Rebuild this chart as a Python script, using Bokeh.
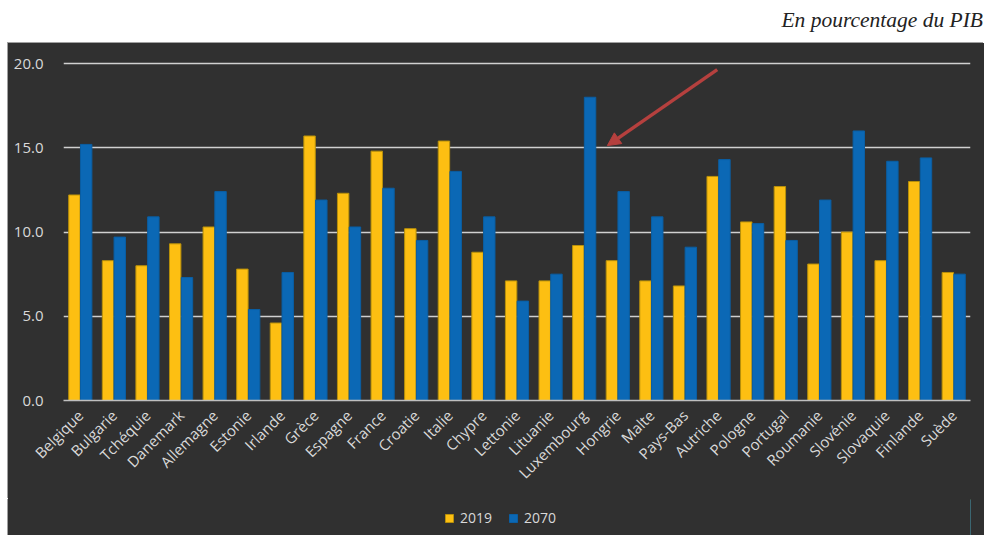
from bokeh.plotting import figure
from bokeh.models import (ColumnDataSource, FixedTicker, NumeralTickFormatter, Range1d,
                          Legend, LegendItem, Arrow, NormalHead, Div, Spacer)
from bokeh.layouts import column, row
from bokeh.transform import dodge
from bokeh.embed import file_html
from bokeh.resources import INLINE
import math

countries = ["Belgique", "Bulgarie", "Tchéquie", "Danemark", "Allemagne", "Estonie", "Irlande",
             "Grèce", "Espagne", "France", "Croatie", "Italie", "Chypre", "Lettonie", "Lituanie",
             "Luxembourg", "Hongrie", "Malte", "Pays-Bas", "Autriche", "Pologne", "Portugal",
             "Roumanie", "Slovénie", "Slovaquie", "Finlande", "Suède"]
v2019 = [12.2, 8.3, 8.0, 9.3, 10.3, 7.8, 4.6, 15.7, 12.3, 14.8, 10.2, 15.4, 8.8, 7.1, 7.1,
         9.2, 8.3, 7.1, 6.8, 13.3, 10.6, 12.7, 8.1, 10.0, 8.3, 13.0, 7.6]
v2070 = [15.2, 9.7, 10.9, 7.3, 12.4, 5.4, 7.6, 11.9, 10.3, 12.6, 9.5, 13.6, 10.9, 5.9, 7.5,
         18.0, 12.4, 10.9, 9.1, 14.3, 10.5, 9.5, 11.9, 16.0, 14.2, 14.4, 7.5]
y_ticks = [0, 5, 10, 15, 20]
series_names = ["2019", "2070"]

BG = "#303030"
TXT = "#d9d9d9"
YELLOW = "#FDBF12"
BLUE = "#0B68B5"
YEL_EDGE = "#B8900A"
BLUE_EDGE = "#0A5EA3"
FONT = "Open Sans"
EDGE = "#a0a0a0"

src = ColumnDataSource(dict(country=countries, y2019=v2019, y2070=v2070))

p = figure(x_range=countries, y_range=Range1d(0, 20.3), width=976, height=456,
           output_backend="svg", toolbar_location=None,
           min_border_left=55, min_border_right=14, min_border_top=15, min_border_bottom=99)
p.x_range.range_padding = 0
p.background_fill_color = BG
p.border_fill_color = BG
p.outline_line_color = None

p.vbar(x=dodge("country", -0.175, range=p.x_range), top="y2019", width=0.34,
       source=src, fill_color=YELLOW, line_color=YEL_EDGE, line_width=1)
p.vbar(x=dodge("country", 0.175, range=p.x_range), top="y2070", width=0.34,
       source=src, fill_color=BLUE, line_color=BLUE_EDGE, line_width=1)

p.xgrid.grid_line_color = None
p.ygrid.grid_line_color = "#d0d0d0"
p.ygrid.grid_line_width = 1.5
p.ygrid.level = "underlay"

p.yaxis.ticker = FixedTicker(ticks=y_ticks)
p.yaxis.formatter = NumeralTickFormatter(format="0.0")
p.yaxis.axis_line_color = None
p.yaxis.major_tick_line_color = None
p.yaxis.minor_tick_line_color = None
p.yaxis.major_label_standoff = 14
p.yaxis.major_label_text_font = FONT
p.yaxis.major_label_text_font_size = "15px"
p.yaxis.major_label_text_color = TXT

p.xaxis.axis_line_color = "#bfbfbf"
p.xaxis.axis_line_width = 1.5
p.xaxis.major_tick_line_color = None
p.xaxis.minor_tick_line_color = None
p.xaxis.major_label_orientation = math.pi / 4
p.xaxis.major_label_standoff = 6
p.xaxis.major_label_text_font = FONT
p.xaxis.major_label_text_font_size = "15px"
p.xaxis.major_label_text_color = TXT

p.add_layout(Arrow(end=NormalHead(size=13, fill_color="#B5403E", line_color="#B5403E"),
                   x_start=19.46, y_start=19.64, x_end=16.19, y_end=15.13,
                   line_color="#B5403E", line_width=3.5))

p.styles = {"box-shadow": f"-1px -1px 0 {EDGE}", "background-color": BG}

# legend strip (continuation of the dark chart panel)
lf = figure(width=976, height=36, x_range=Range1d(0, 1), y_range=Range1d(0, 1),
            x_axis_type=None, y_axis_type=None,
            output_backend="svg", toolbar_location=None,
            min_border_left=0, min_border_right=0, min_border_top=0, min_border_bottom=0)
lf.grid.grid_line_color = None
lf.outline_line_color = None
lf.background_fill_color = BG
lf.border_fill_color = BG
# one placeholder bar per series, outside the visible range: only used for legend swatches
swatch = ColumnDataSource(dict(x=[5], top=[1]))
l1 = lf.vbar(x="x", top="top", width=0.1, source=swatch, fill_color=YELLOW, line_color=YEL_EDGE)
l2 = lf.vbar(x="x", top="top", width=0.1, source=swatch, fill_color=BLUE, line_color=BLUE_EDGE)
legend = Legend(items=[LegendItem(label=series_names[0], renderers=[l1]),
                       LegendItem(label=series_names[1], renderers=[l2])],
                orientation="horizontal", location=(381, 8),
                background_fill_alpha=0, border_line_alpha=0,
                label_text_color=TXT, label_text_font=FONT, label_text_font_size="14px",
                glyph_width=10, glyph_height=10, spacing=16, label_standoff=6,
                padding=0, margin=0)
lf.add_layout(legend, "center")
lf.styles = {"box-shadow": f"-1px 0 0 {EDGE}", "background-color": BG}

title = Div(text='<div style="width: 983px; text-align:right; font-family: \'Liberation Serif\'; font-style: italic; '
                 'font-size: 21.5px; line-height: 21px; padding-top: 10px; color:#222;">'
                 'En pourcentage du PIB</div>', width=984, height=43, margin=0)

layout = column(title, row(Spacer(width=8, height=456, margin=0), column(p, lf)))
open("out.html", "w").write(file_html(layout, INLINE))
